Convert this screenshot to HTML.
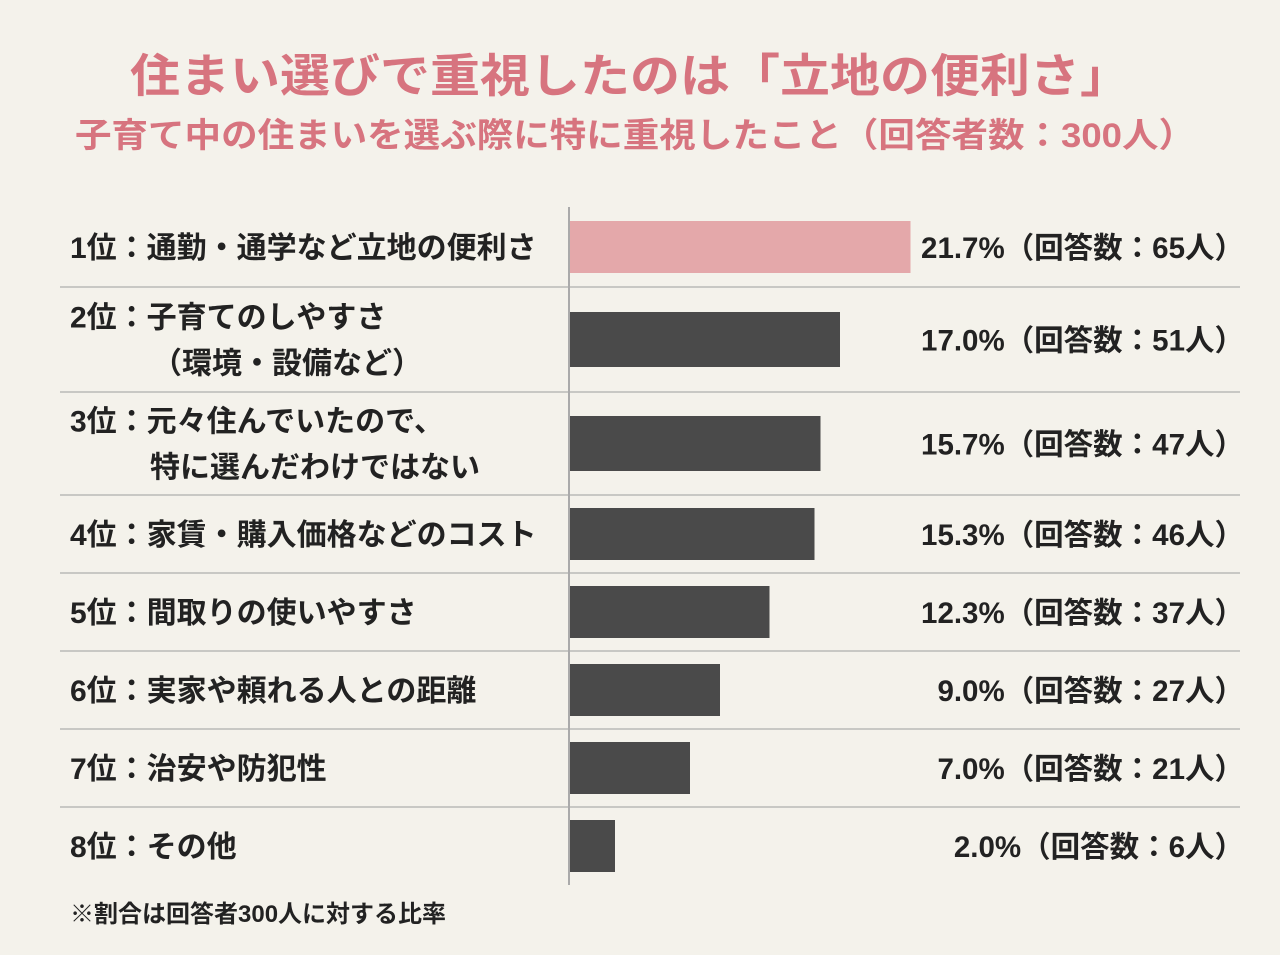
<!DOCTYPE html>
<html><head><meta charset="utf-8"><style>
html,body{margin:0;padding:0;background:#f4f2eb}
svg{display:block}
text{font-family:"Liberation Sans","Noto Sans CJK JP",sans-serif;font-weight:bold}
</style></head><body>
<svg id="chart" width="1280" height="955" viewBox="0 0 1280 955" xmlns="http://www.w3.org/2000/svg">
<rect width="1280" height="955" fill="#f4f2eb"/>
<text x="630" y="92" text-anchor="middle" font-size="46" fill="#d7747f" textLength="1000" lengthAdjust="spacingAndGlyphs">住まい選びで重視したのは「立地の便利さ」</text>
<text x="635" y="147" text-anchor="middle" font-size="34" fill="#d7747f" textLength="1120" lengthAdjust="spacingAndGlyphs">子育て中の住まいを選ぶ際に特に重視したこと（回答者数：300人）</text>
<g id="rows"></g>
<line x1="569" y1="207" x2="569" y2="885" stroke="#aaa" stroke-width="2"/>
<text x="70" y="922" font-size="24" fill="#222">※割合は回答者300人に対する比率</text>
</svg>
<script>
const categories1 = ["1位：通勤・通学など立地の便利さ","2位：子育てのしやすさ","3位：元々住んでいたので、","4位：家賃・購入価格などのコスト","5位：間取りの使いやすさ","6位：実家や頼れる人との距離","7位：治安や防犯性","8位：その他"];
const categories2 = ["","（環境・設備など）","特に選んだわけではない","","","","",""];
const percents = [21.7,17.0,15.7,15.3,12.3,9.0,7.0,2.0];
const counts = [65,51,47,46,37,27,21,6];
const rowEdges = [207,287,392,495,573,651,729,807,885];
const ns="http://www.w3.org/2000/svg";
const g=document.getElementById('rows');
function xScale(v){return 15*v+15;}
function mk(t,a){const e=document.createElementNS(ns,t);for(const k in a)e.setAttribute(k,a[k]);g.appendChild(e);return e;}
percents.forEach((v,i)=>{
  const top=rowEdges[i], bot=rowEdges[i+1], c=(top+bot)/2;
  const h=(bot-top)>90?55:52;
  const bar=mk('rect',{x:570,y:c-h/2,width:xScale(v),height:h,fill:i===0?'#e4a8aa':'#4a4a4a'});
  
  
  if(i<percents.length-1){
    const ln=mk('line',{x1:60,x2:1240,y1:bot,y2:bot,stroke:'#c8c8c4','stroke-width':2});
    
    
  }
  const two=categories2[i]!=='';
  const t1=mk('text',{x:70,y:two?c-12:c+11,'font-size':30,fill:'#222'});
  t1.textContent=categories1[i];
  
  
  if(two){
    const t2=mk('text',{x:i===1?152:150,y:c+34,'font-size':30,fill:'#222'});
    t2.textContent=categories2[i];
    
    
  }
  const vt=mk('text',{x:1244,y:c+11,'font-size':29.5,fill:'#222','text-anchor':'end'});
  vt.textContent=v.toFixed(1)+'%（回答数：'+counts[i]+'人）';
  
  
});
</script>
</body></html>
